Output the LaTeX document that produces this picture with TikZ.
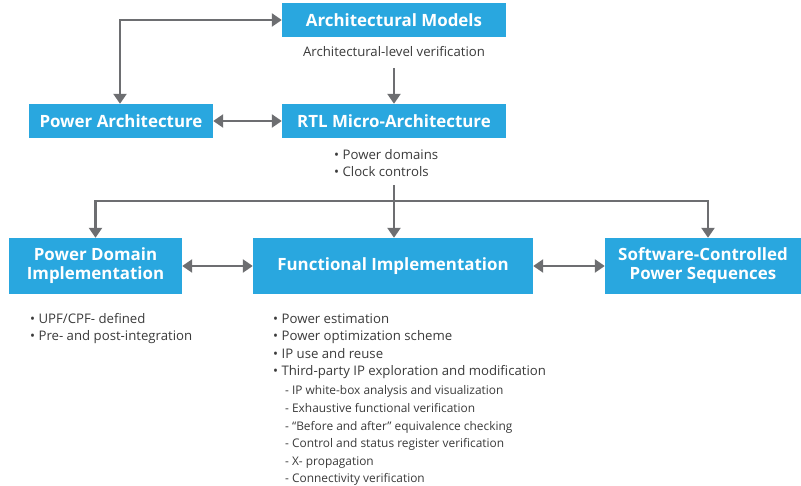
\documentclass[tikz,border=0pt]{standalone}
\usepackage{fontspec}
\setmainfont{Open Sans}
\usetikzlibrary{arrows.meta}
\definecolor{boxblue}{HTML}{29A7DF}
\definecolor{arrgrey}{HTML}{6D6E71}
\definecolor{txtgrey}{HTML}{3A3A3A}
\begin{document}
\begin{tikzpicture}[x=1pt,y=-1pt,
  blk/.style={fill=boxblue,text=white,font=\bfseries\fontsize{16.9}{19}\selectfont,inner sep=0pt,align=center},
  conn/.style={draw=arrgrey,line width=2.4pt,-{Triangle[length=10pt,width=13pt]}},
  both/.style={conn,{Triangle[length=10pt,width=13pt]}-{Triangle[length=10pt,width=13pt]}},
  lst/.style={text=txtgrey,font=\fontsize{13.2}{16}\selectfont,anchor=base west,inner sep=0pt},
  sub/.style={text=txtgrey,font=\fontsize{11.9}{14}\selectfont,anchor=base west,inner sep=0pt}]
\useasboundingbox (0,0) rectangle (801,486);
\node[blk,minimum width=224pt,minimum height=34pt] (am) at (394,20) {Architectural Models};
\node[blk,minimum width=184pt,minimum height=34pt] (pa) at (121,121) {Power Architecture};
\node[blk,minimum width=224pt,minimum height=34pt] (rtl) at (394,121) {RTL Micro-Architecture};
\node[blk,minimum width=173pt,minimum height=56pt] (pdi) at (95.5,266) {Power Domain\\Implementation};
\node[blk,minimum width=280pt,minimum height=56pt] (fi) at (393,266) {Functional Implementation};
\node[blk,minimum width=196pt,minimum height=56pt] (sc) at (703,266) {Software-Controlled\\Power Sequences};
\node[text=txtgrey,font=\fontsize{13.2}{16}\selectfont,inner sep=0pt,anchor=base] (alv) at (394,56.5) {Architectural-level verification};
\node[lst] (r1) at (334,159.5) {• Power domains};
\node[lst] (r2) at (334,176.5) {• Clock controls};
\node[lst] (p1) at (30,323.5) {• UPF/CPF- defined};
\node[lst] (p2) at (30,340.5) {• Pre- and post-integration};
\node[lst] (f1) at (273,323.3) {• Power estimation};
\node[lst] (f2) at (273,340.7) {• Power optimization scheme};
\node[lst] (f3) at (273,358.3) {• IP use and reuse};
\node[lst] (f4) at (273,375.7) {• Third-party IP exploration and modification};
\node[sub] (s1) at (285,395) {- IP white-box analysis and visualization};
\node[sub] (s2) at (285,412.3) {- Exhaustive functional verification};
\node[sub] (s3) at (285,430) {- “Before and after” equivalence checking};
\node[sub] (s4) at (285,447.3) {- Control and status register verification};
\node[sub] (s5) at (285,465) {- X- propagation};
\node[sub] (s6) at (285,482.3) {- Connectivity verification};
\coordinate (c1) at (120,20);
\coordinate (a0) at (394,68);
\coordinate (top) at (394,185);
\coordinate (j) at (394,201);
\draw[both] (am.west) -- (c1) -- (pa.north -| c1);
\draw[both] (pa) -- (rtl);
\draw[conn] (a0) -- (rtl.north);
\draw[conn] (top) -- (fi.north -| top);
\draw[conn] (j) -| (pdi.north);
\draw[conn] (j) -| (sc.north -| 708,0);
\draw[both] (pdi) -- (fi);
\draw[both] (fi) -- (sc);
\end{tikzpicture}
\end{document}
